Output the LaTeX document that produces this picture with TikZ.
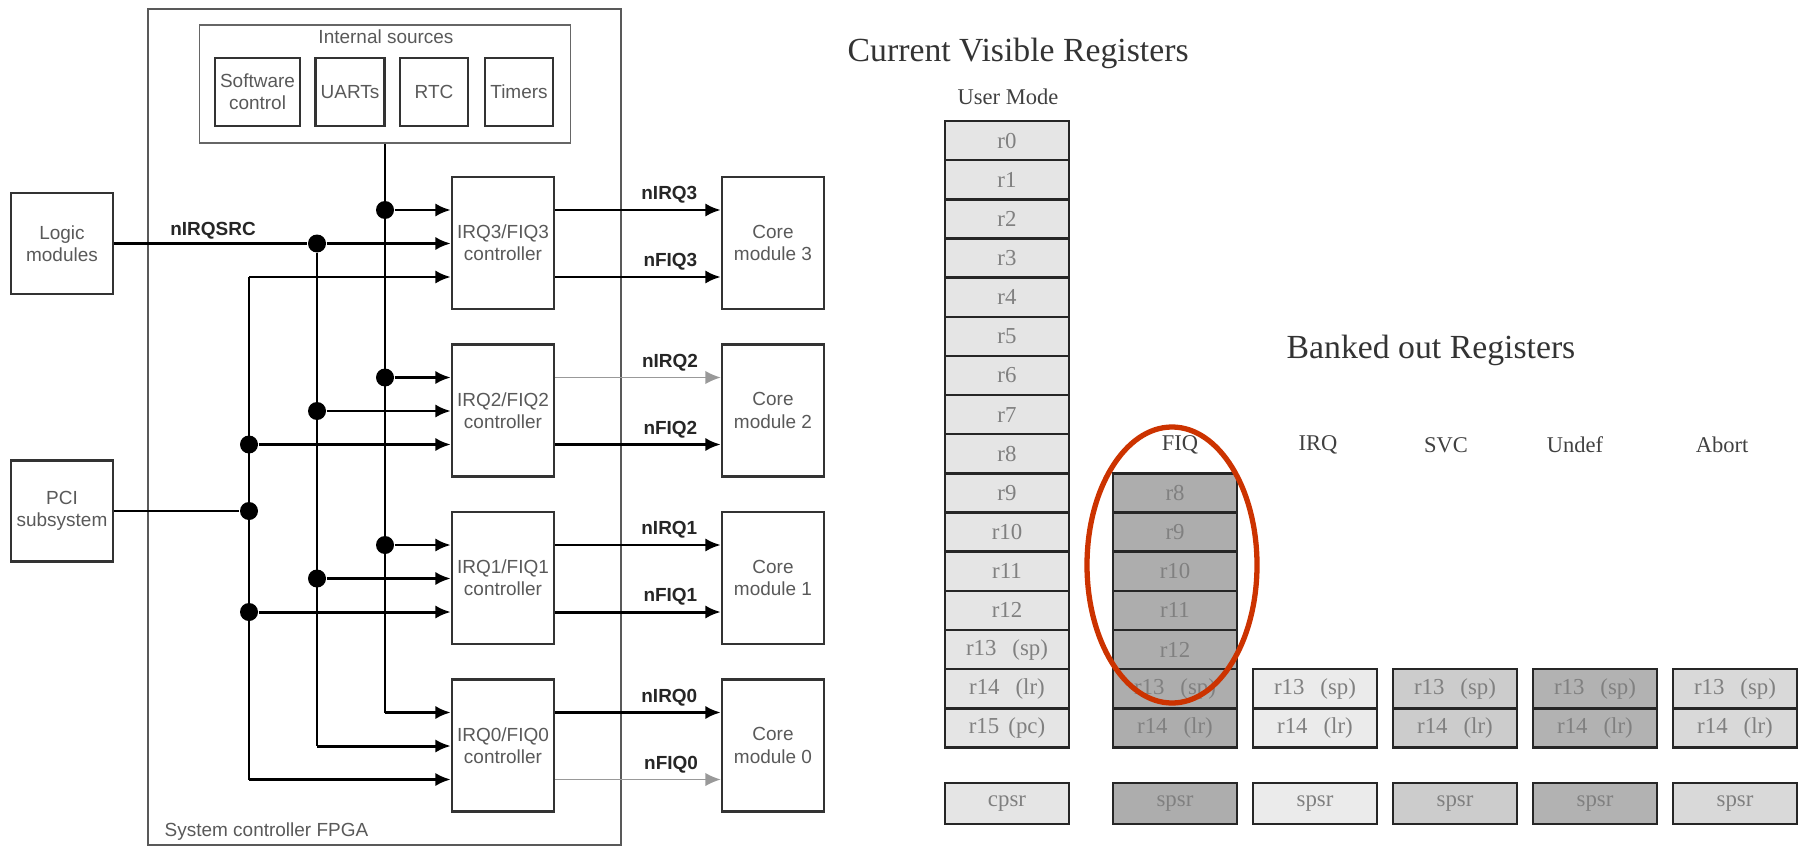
\documentclass[tikz,border=0pt]{standalone}
\usepackage{fontspec}
\setmainfont{Liberation Serif}
\setsansfont{Liberation Sans}
\usetikzlibrary{arrows.meta,positioning,shapes.geometric}

\definecolor{usrfill}{gray}{0.9}
\definecolor{fiqfill}{gray}{0.68}
\definecolor{irqfill}{gray}{0.92}
\definecolor{svcfill}{gray}{0.8}
\definecolor{undfill}{gray}{0.7}
\definecolor{abtfill}{gray}{0.85}
\definecolor{ringred}{RGB}{204,51,0}

\begin{document}
\begin{tikzpicture}[x=0.1mm, y=-0.1mm,
    box/.style={draw=black!80, line width=0.7pt, inner sep=0pt, align=center,
                font=\sffamily\fontsize{5.4}{6.3}\selectfont, text=black!65},
    ctrl/.style={box, minimum width=1.02cm, minimum height=1.32cm},
    src/.style={box, minimum height=0.68cm},
    lbl/.style={font=\sffamily\fontsize{5.4}{6.3}\selectfont, text=black!65, inner sep=0pt},
    sig/.style={font=\sffamily\bfseries\fontsize{5.4}{6.3}\selectfont, text=black!85, inner sep=0pt},
    wire/.style={line width=0.85pt},
    arrow/.style={wire, -{Latex[length=4.4pt,width=3.8pt]}},
    dot/.style={circle, fill=black, inner sep=0pt, minimum size=0.18cm},
    head/.style={font=\fontsize{9.6}{11}\selectfont, text=black!80, inner sep=0pt},
    mode/.style={font=\fontsize{6.4}{7.5}\selectfont, text=black!75, inner sep=0pt},
    reg/.style={draw=black!85, line width=0.7pt, inner sep=0pt, minimum width=1.24cm,
                minimum height=0.3915cm, font=\fontsize{6.5}{7.5}\selectfont, text=black!50}]
\useasboundingbox (0,0) rectangle (1800,848);

% interrupt routing
\node[box, draw=black!65, line width=0.45pt, minimum width=4.73cm, minimum height=8.36cm] (fpga) at (384.5,427) {};
\node[lbl, anchor=west] (fpgalbl) at (164,832) {System controller FPGA};
\node[box, draw=black!60, line width=0.5pt, minimum width=3.71cm, minimum height=1.18cm] (intsrc) at (385,84) {};
\node[lbl] (intlbl) at (386,37) {Internal sources};
\node[src, minimum width=0.85cm] (swctl) at (257.5,92) {Software\\control};
\node[src, minimum width=0.69cm] (uarts) at (350,92) {UARTs};
\node[src, minimum width=0.68cm] (rtc) at (434,92) {RTC};
\node[src, minimum width=0.68cm] (timers) at (519,92) {Timers};
\node[box, minimum width=1.02cm, minimum height=1.01cm] (logic) at (62,243.5) {Logic\\modules};
\node[box, minimum width=1.02cm, minimum height=1.01cm] (pci) at (62,511) {PCI\\subsystem};

\foreach \k in {0,...,3}{
    \pgfmathsetmacro\yc{243+167.5*(3-\k)}
    \node[ctrl] (ctl\k) at (503,\yc) {IRQ\k/FIQ\k\\controller};
    \node[ctrl] (core\k) at (773,\yc) {Core\\module \k};
}

\coordinate (a3) at (249,277);
\node[dot] (a2) at (249,444.5) {};
\node[dot] (pcij) at (249,511) {};
\node[dot] (a1) at (249,612) {};
\coordinate (a0) at (249,779.5);
\node[dot] (b3) at (317,243.5) {};
\node[dot] (b2) at (317,411) {};
\node[dot] (b1) at (317,578.5) {};
\coordinate (b0) at (317,746);
\node[dot] (c3) at (385,210) {};
\node[dot] (c2) at (385,377.5) {};
\node[dot] (c1) at (385,545) {};
\coordinate (c0) at (385,712.5);

\draw[wire] (intsrc.south) -- (c0);
\draw[wire] (b3) -- (b0);
\draw[wire] (a3) -- (a0);
\draw[wire] (pci) -- (pcij);
\draw[wire] (logic) -- (b3);
\node[sig] (srclbl) at (213,231) {nIRQSRC};

\foreach \k in {0,...,3}{
    \draw[arrow] (c\k) -- (ctl\k.west |- c\k);
    \draw[arrow] (b\k) -- (ctl\k.west |- b\k);
    \draw[arrow] (a\k) -- (ctl\k.west |- a\k);
}

\foreach \k/\wi/\ci/\wf/\cf in {3/0.85/black/0.85/black, 2/0.45/black!40/0.85/black,
                                 1/0.85/black/0.85/black, 0/0.85/black/0.45/black!40}{
    \draw[arrow, line width=\wi pt, draw=\ci] (ctl\k.east |- c\k) -- (core\k.west |- c\k)
        node[sig, pos=1, anchor=south east, xshift=-0.22cm, yshift=0.05cm] (nirq\k) {nIRQ\k};
    \draw[arrow, line width=\wf pt, draw=\cf] (ctl\k.east |- a\k) -- (core\k.west |- a\k)
        node[sig, pos=1, anchor=south east, xshift=-0.22cm, yshift=0.05cm] (nfiq\k) {nFIQ\k};
}

% register banks
\node[head, anchor=west] (cvr) at (847,53) {Current Visible Registers};
\node[head, anchor=west] (bor) at (1286,350) {Banked out Registers};
\node[mode] (umode) at (1008,97) {User Mode};

\foreach \i in {0,...,12}
    \node[reg, fill=usrfill] (u\i) at (1007,{140.6+39.15*\i}) {r\i};
\node[reg, fill=usrfill] (u13) at (1007,649.55) {r13\hspace{0.7em}(sp)};
\node[reg, fill=usrfill] (u14) at (1007,688.7) {r14\hspace{0.7em}(lr)};
\node[reg, fill=usrfill] (u15) at (1007,727.85) {r15\hspace{0.4em}(pc)};
\node[reg, fill=usrfill, minimum height=0.41cm] (cpsr) at (1007,803.5) {cpsr};

\foreach \i in {8,...,12}
    \node[reg, fill=fiqfill] (f\i) at (1175,{140.6+39.15*(\i+1)}) {r\i};
\node[reg, fill=fiqfill] (f13) at (1175,688.7) {r13\hspace{0.7em}(sp)};
\node[reg, fill=fiqfill] (f14) at (1175,727.85) {r14\hspace{0.7em}(lr)};
\node[reg, fill=fiqfill, minimum height=0.41cm] (fiq-spsr) at (1175,803.5) {spsr};

\foreach \m/\x/\c in {irq/1315/irqfill, svc/1455/svcfill, und/1595/undfill, abt/1735/abtfill}{
    \node[reg, fill=\c] (\m13) at (\x,688.7) {r13\hspace{0.7em}(sp)};
    \node[reg, fill=\c] (\m14) at (\x,727.85) {r14\hspace{0.7em}(lr)};
    \node[reg, fill=\c, minimum height=0.41cm] (\m-spsr) at (\x,803.5) {spsr};
}

\node[mode] (lfiq) at (1180,445) {FIQ};
\node[mode] (lirq) at (1318,445) {IRQ};
\node[mode] (lsvc) at (1446,445) {SVC};
\node[mode] (lund) at (1575,445) {Undef};
\node[mode] (labt) at (1722,445) {Abort};

\node[draw=ringred, line width=1.5pt, ellipse, inner sep=0pt,
      minimum width=1.7cm, minimum height=2.76cm] (fiqring) at (1172,565) {};
\end{tikzpicture}
\end{document}
